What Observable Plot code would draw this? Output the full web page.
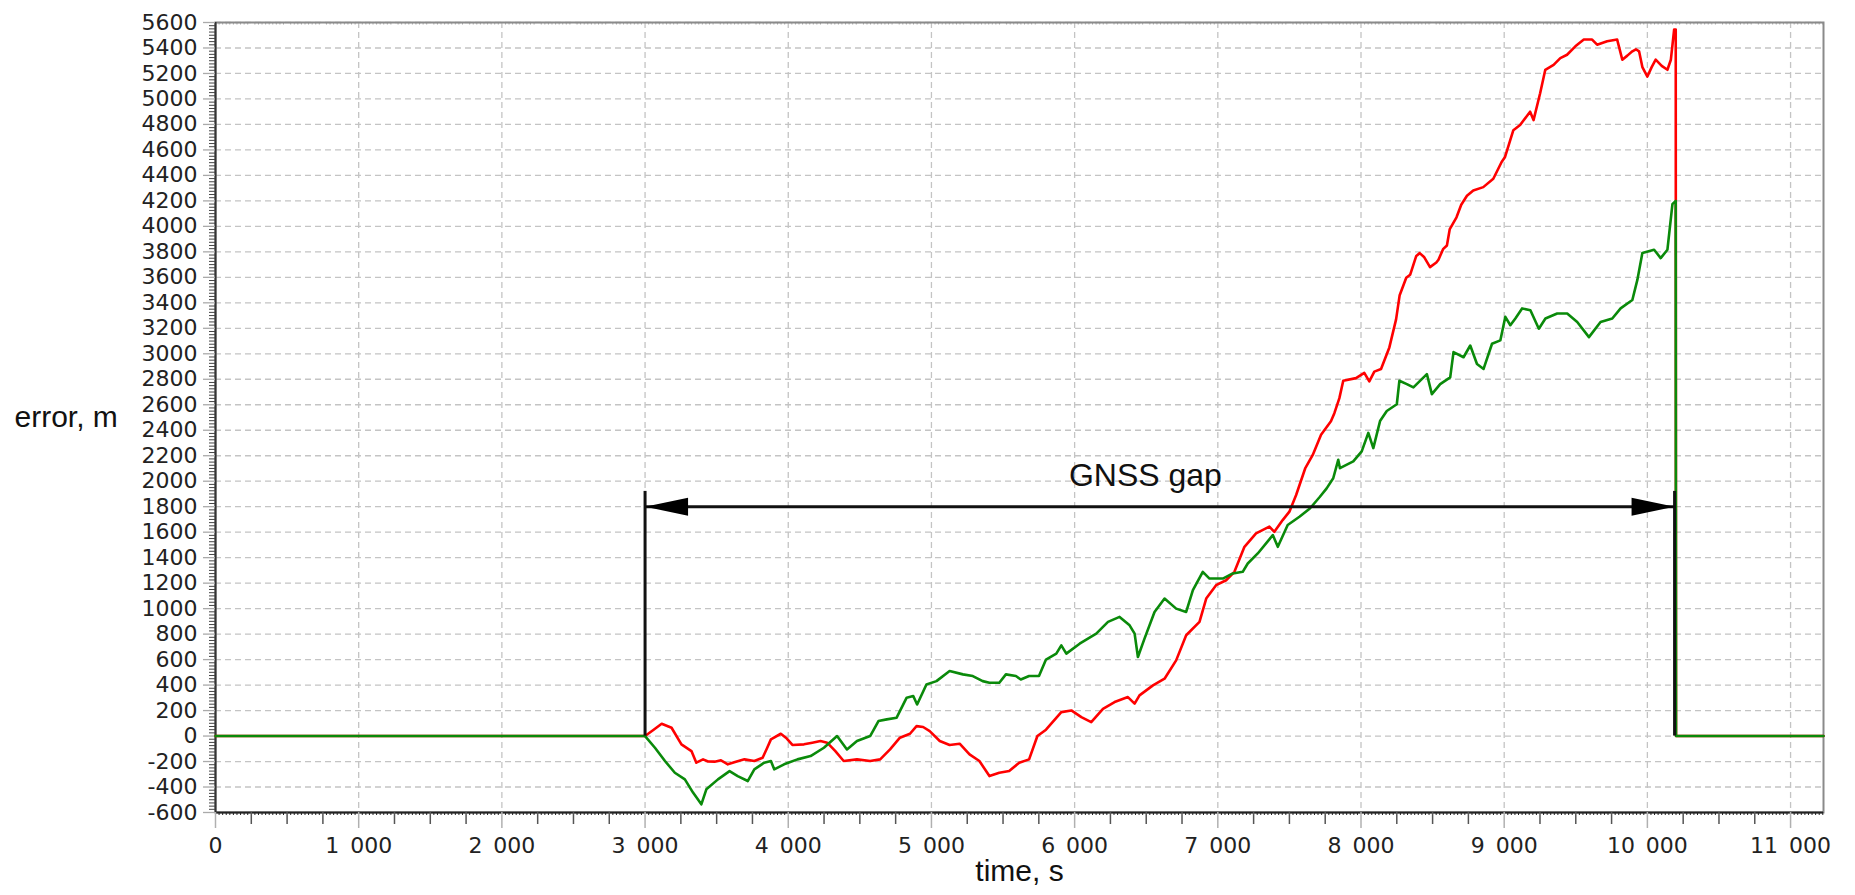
<!DOCTYPE html>
<html><head><meta charset="utf-8">
<script src="https://cdn.jsdelivr.net/npm/d3@7"></script>
<script src="https://cdn.jsdelivr.net/npm/@observablehq/plot@0.6"></script>
<style>html,body{margin:0;padding:0;background:#fff;} #chart svg{display:block;}</style>
</head><body><div id="chart"></div>
<script>
// ---- data ----
const xTicks = [0, 1000, 2000, 3000, 4000, 5000, 6000, 7000, 8000, 9000, 10000, 11000];
const xTickLabels = ["0", "1\u2002000", "2\u2002000", "3\u2002000", "4\u2002000", "5\u2002000", "6\u2002000", "7\u2002000", "8\u2002000", "9\u2002000", "10\u2002000", "11\u2002000"];
const yTicks = [-600, -400, -200, 0, 200, 400, 600, 800, 1000, 1200, 1400, 1600, 1800, 2000, 2200, 2400, 2600, 2800, 3000, 3200, 3400, 3600, 3800, 4000, 4200, 4400, 4600, 4800, 5000, 5200, 5400, 5600];

const redError = [
  [0,0],[3000,0],[3060,50],[3116,97],[3185,65],[3254,-65],[3324,-118],[3358,-209],[3405,-183],[3440,-200],
  [3486,-201],[3530,-190],[3578,-222],[3640,-200],[3694,-183],[3763,-196],[3821,-170],[3850,-100],[3879,-26],
  [3948,18],[3990,-20],[4029,-70],[4110,-65],[4168,-52],[4225,-39],[4272,-52],[4329,-118],[4387,-196],
  [4480,-183],[4572,-196],[4642,-183],[4711,-105],[4780,-13],[4850,18],[4896,78],[4942,71],[4988,39],
  [5058,-39],[5127,-70],[5197,-60],[5266,-144],[5335,-196],[5405,-314],[5474,-288],[5543,-275],[5613,-209],
  [5682,-183],[5740,0],[5800,50],[5907,188],[5977,201],[6047,149],[6116,109],[6198,214],[6279,267],
  [6372,306],[6419,254],[6453,319],[6547,398],[6628,450],[6709,594],[6779,791],[6872,896],[6919,1079],
  [6988,1184],[7058,1223],[7116,1289],[7186,1485],[7267,1590],[7360,1643],[7395,1603],[7453,1695],
  [7500,1761],[7547,1892],[7610,2100],[7663,2206],[7721,2364],[7790,2470],[7814,2534],[7849,2652],
  [7876,2788],[7965,2809],[8023,2850],[8058,2783],[8093,2860],[8140,2880],[8198,3050],[8245,3270],
  [8270,3460],[8316,3597],[8343,3620],[8386,3768],[8410,3790],[8440,3760],[8482,3680],[8526,3716],
  [8541,3738],[8573,3821],[8600,3850],[8620,3979],[8667,4071],[8700,4170],[8740,4240],[8784,4282],
  [8854,4308],[8924,4374],[8982,4505],[9006,4545],[9064,4755],[9111,4795],[9181,4900],[9205,4834],
  [9251,5045],[9287,5229],[9345,5268],[9392,5321],[9439,5347],[9497,5413],[9556,5466],[9614,5466],
  [9649,5426],[9719,5453],[9789,5466],[9825,5308],[9860,5340],[9895,5374],[9920,5390],[9942,5374],
  [9965,5250],[10000,5176],[10030,5250],[10058,5308],[10100,5260],[10140,5229],[10164,5308],[10187,5545],
  [10198,5545],[10200,0],[11230,0]
];

const greenError = [
  [0,0],[3000,0],[3069,-92],[3139,-196],[3208,-288],[3278,-340],[3335,-444],[3393,-536],[3428,-418],
  [3509,-340],[3590,-275],[3647,-314],[3717,-353],[3763,-261],[3832,-209],[3879,-196],[3902,-261],
  [3971,-222],[4064,-183],[4156,-157],[4249,-92],[4341,0],[4410,-105],[4480,-39],[4572,0],[4630,118],
  [4688,131],[4757,144],[4827,301],[4873,314],[4900,248],[4965,405],[5035,431],[5127,510],[5220,484],
  [5289,471],[5358,431],[5405,418],[5474,418],[5520,484],[5590,471],[5624,444],[5682,471],[5751,471],
  [5800,600],[5872,647],[5907,712],[5942,647],[6035,725],[6151,804],[6233,896],[6314,935],[6384,869],
  [6419,804],[6442,620],[6488,765],[6558,974],[6628,1079],[6709,1000],[6779,974],[6826,1145],[6895,1289],
  [6942,1236],[7035,1236],[7105,1276],[7174,1289],[7209,1354],[7279,1433],[7384,1577],[7419,1485],
  [7488,1656],[7570,1721],[7643,1786],[7713,1878],[7760,1944],[7806,2023],[7841,2168],[7853,2102],
  [7946,2155],[8005,2234],[8051,2379],[8086,2260],[8133,2472],[8180,2551],[8250,2604],[8268,2788],
  [8320,2762],[8366,2736],[8460,2841],[8495,2683],[8553,2762],[8623,2815],[8646,3013],[8716,2973],
  [8763,3065],[8810,2920],[8856,2881],[8915,3079],[8973,3105],[9008,3290],[9043,3224],[9078,3277],
  [9125,3356],[9183,3342],[9242,3197],[9288,3277],[9370,3316],[9440,3316],[9510,3250],[9592,3131],
  [9673,3250],[9755,3277],[9813,3356],[9895,3422],[9930,3580],[9965,3791],[10047,3817],[10093,3751],
  [10140,3817],[10175,4174],[10198,4200],[10200,0],[11230,0]
];

const gapTimes = [3000, 10190];
const gapMarkTop = 1920;
const arrowLevel = 1800;
const gapLabel = "GNSS gap";
const gapLabelPos = [6494, 2040];
const xLabel = "time, s";
const yLabel = "error, m";

// ---- chart ----
const labelOf = new Map(xTicks.map((t, i) => [t, xTickLabels[i]]));
const xMinor = d3.range(250, 11230, 250).filter(d => d % 1000 !== 0);
const xMicro = d3.range(25, 11230, 25).filter(d => d % 250 !== 0);
const yMinor = d3.range(-600, 5601, 25).filter(d => d % 200 !== 0);
const tickFont = "DejaVu Sans, Verdana, sans-serif";
const labelFont = "Liberation Sans, Arial, sans-serif";

const leftHead = {draw(c) { c.moveTo(0, 0); c.lineTo(43, -9); c.lineTo(43, 9); c.closePath(); }};
const rightHead = {draw(c) { c.moveTo(0, 0); c.lineTo(-43, -9); c.lineTo(-43, 9); c.closePath(); }};

const chart = Plot.plot({
  width: 1855,
  height: 895,
  marginTop: 22,
  marginRight: 32,
  marginBottom: 83,
  marginLeft: 215,
  style: {background: "#fff", overflow: "visible"},
  x: {domain: [0, 11230]},
  y: {domain: [-600, 5600]},
  marks: [
    Plot.gridY(yTicks, {stroke: "#c4c4c4", strokeOpacity: 1, strokeDasharray: "6,4", strokeWidth: 1.3}),
    Plot.gridX(xTicks, {stroke: "#c4c4c4", strokeOpacity: 1, strokeDasharray: "6,4", strokeWidth: 1.3}),
    Plot.ruleX(xMicro, {y1: 5600, y2: 5580, stroke: "#aaa", strokeWidth: 1}),
    Plot.frame({stroke: "#8a8a8a", strokeWidth: 2}),
    Plot.ruleX([0], {stroke: "#333", strokeWidth: 2}),
    Plot.ruleY([-600], {stroke: "#222", strokeWidth: 2}),
    // y axis ticks
    Plot.axisY({ticks: yTicks, tickSize: 12, text: null, label: null, stroke: "#aaa", strokeWidth: 1.3}),
    Plot.axisY({ticks: yMinor, tickSize: 6, text: null, label: null, stroke: "#444", strokeWidth: 1}),
    Plot.axisY({ticks: yTicks, tickSize: 0, tickPadding: 18, label: null, tickFormat: d => String(d),
      fontSize: 22, fontFamily: tickFont, fill: "#222"}),
    // x axis ticks
    Plot.axisX({ticks: xTicks, tickSize: 16, text: null, label: null, stroke: "#b0b0b0", strokeWidth: 1.5}),
    Plot.axisX({ticks: xMinor, tickSize: 12, text: null, label: null, stroke: "#555", strokeWidth: 1.5}),
    Plot.axisX({ticks: xMicro, tickSize: 3, text: null, label: null, stroke: "#222", strokeWidth: 1}),
    Plot.axisX({ticks: xTicks, tickSize: 0, tickPadding: 25, label: null, tickFormat: d => labelOf.get(d),
      fontSize: 22, fontFamily: tickFont, fill: "#222"}),
    // series
    Plot.line(redError, {x: d => d[0], y: d => d[1], stroke: "#ff0000", strokeWidth: 2.6, curve: "linear"}),
    Plot.line(greenError, {x: d => d[0], y: d => d[1], stroke: "#0a8a0a", strokeWidth: 2.6, curve: "linear"}),
    // GNSS gap annotation
    Plot.ruleX(gapTimes, {y1: 0, y2: gapMarkTop, stroke: "#111", strokeWidth: 3}),
    Plot.ruleY([arrowLevel], {x1: gapTimes[0], x2: gapTimes[1], stroke: "#111", strokeWidth: 3}),
    Plot.dot([[gapTimes[0], arrowLevel]], {x: d => d[0], y: d => d[1], symbol: leftHead, fill: "#000", stroke: "none", r: 5}),
    Plot.dot([[gapTimes[1], arrowLevel]], {x: d => d[0], y: d => d[1], symbol: rightHead, fill: "#000", stroke: "none", r: 5}),
    Plot.text([gapLabel], {x: gapLabelPos[0], y: gapLabelPos[1], text: d => d, fontSize: 32, fontFamily: labelFont, fill: "#111"}),
    // axis titles
    Plot.text([xLabel], {frameAnchor: "bottom", dy: 68, text: d => d, fontSize: 30, fontFamily: labelFont, fill: "#111"}),
    Plot.text([yLabel], {frameAnchor: "left", dx: -201, textAnchor: "start", text: d => d, fontSize: 30, fontFamily: labelFont, fill: "#111"})
  ]
});
document.getElementById("chart").appendChild(chart);
</script>
</body></html>
